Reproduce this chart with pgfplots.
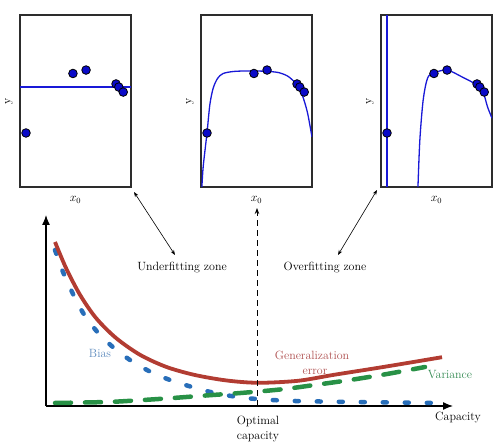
\documentclass[border=0pt]{standalone}
\usepackage{pgfplots}
\usepackage{pgfplotstable}
\pgfplotsset{compat=1.18}
\usetikzlibrary{arrows.meta}

\definecolor{fitblue}{RGB}{25,25,215}
\definecolor{ptblue}{RGB}{10,10,200}
\definecolor{framegray}{RGB}{45,45,45}
\definecolor{generr}{RGB}{178,60,50}
\definecolor{biasblue}{RGB}{40,110,185}
\definecolor{varcol}{RGB}{40,145,70}
\definecolor{biastext}{RGB}{95,140,190}
\definecolor{gentext}{RGB}{175,80,80}
\definecolor{vartext}{RGB}{55,140,85}

\newcommand{\lblfont}{\fontsize{12}{14}\selectfont}

% training samples shared by the three fits
\pgfplotstableread{
x y
0.054 0.314
0.477 0.660
0.595 0.680
0.865 0.599
0.890 0.581
0.930 0.552
}\samples

% bias / variance / generalization error against capacity
\pgfplotstableread{
x y
0.225 4.10
0.5   3.45
0.85  2.78
1.25  2.20
1.75  1.70
2.35  1.28
3.0   0.98
3.7   0.78
4.5   0.64
5.3   0.58
6.3   0.63
7.2   0.78
8.4   0.97
9.9   1.22
}\generr

\pgfplotstableread{
x y
0.225 3.90
0.425 3.35
0.675 2.80
0.925 2.33
1.275 1.86
1.675 1.47
2.1   1.15
2.6   0.86
3.1   0.65
3.65  0.475
4.175 0.335
4.725 0.235
5.275 0.175
6.425 0.12
9.775 0.075
}\bias

\pgfplotstableread{
x y
0.225 0.075
1.525 0.10
2.275 0.14
3.175 0.20
4.025 0.265
4.925 0.33
5.925 0.42
6.675 0.52
7.6   0.65
8.525 0.80
9.475 0.975
}\variance

\pgfplotsset{
  fitpanel/.style={
    scale only axis, width=111bp, height=172bp, anchor=south west,
    xmin=0, xmax=1, ymin=0, ymax=1,
    xtick=\empty, ytick=\empty,
    axis line style={framegray, line width=1.3bp},
    xlabel={$x_0$}, ylabel={y},
    xlabel style={at={(axis description cs:0.5,-0.075)}, anchor=center,
      font=\lblfont},
    ylabel style={at={(axis description cs:-0.1,0.5)}, anchor=center,
      font=\lblfont},
  },
  fitline/.style={fitblue, line width=1.3bp, no marks},
  samplemarks/.style={only marks, mark=*, mark size=4.3bp,
    mark options={fill=ptblue, draw=black, line width=0.8bp}},
}

\begin{document}
\begin{tikzpicture}[font=\lblfont]
\useasboundingbox (0bp,0bp) rectangle (494bp,445bp);

% underfitting: constant model
\begin{axis}[fitpanel, at={(20bp,258bp)}]
  \addplot[fitline] coordinates {(0,0.581) (1,0.581)};
  \addplot[samplemarks] table {\samples};
\end{axis}

% appropriate capacity
\begin{axis}[fitpanel, at={(201bp,258bp)}]
  \addplot[fitline, smooth] coordinates {
    (0.008,0) (0.02,0.12) (0.054,0.314) (0.08,0.48) (0.11,0.575)
    (0.15,0.632) (0.2,0.660) (0.3,0.672) (0.45,0.675) (0.6,0.672)
    (0.7,0.665) (0.78,0.645) (0.84,0.612) (0.88,0.578) (0.92,0.52)
    (0.96,0.43) (1.0,0.29)};
  \addplot[samplemarks] table {\samples};
\end{axis}

% overfitting: high degree polynomial
\begin{axis}[fitpanel, at={(381bp,258bp)}]
  \addplot[fitline] coordinates {(0.054,0) (0.054,1)};
  \addplot[fitline, smooth] coordinates {
    (0.333,0) (0.35,0.273) (0.38,0.506) (0.42,0.634) (0.477,0.663)
    (0.595,0.68) (0.73,0.64) (0.865,0.593) (0.92,0.552) (0.96,0.465)
    (1.0,0.40)};
  \addplot[samplemarks] table {\samples};
\end{axis}

\begin{axis}[
  at={(46bp,39bp)}, anchor=south west, scale only axis,
  width=407bp, height=191bp,
  xmin=0, xmax=10.175, ymin=0, ymax=4.775,
  axis lines=left, xtick=\empty, ytick=\empty,
  axis line style={black, line width=1.3bp, -{Latex[length=10bp,width=8bp]}},
  clip=false,
]
  \addplot[biasblue, line width=4.5bp, line cap=round,
    dash pattern={on 4bp off 18bp}, smooth] table {\bias};
  \addplot[varcol, line width=4.5bp, line cap=round,
    dash pattern={on 16bp off 14bp}, smooth] table {\variance};
  \addplot[generr, line width=3.8bp, smooth] table {\generr};
  \addplot[black, line width=1bp, dash pattern={on 6bp off 4bp},
    -{Stealth[length=6bp]}] coordinates {(5.275,0) (5.275,4.95)};

  \node[biastext, font=\lblfont] at (axis cs:1.35,1.325) {Bias};
  \node[gentext, font=\lblfont] at (axis cs:6.65,1.275) {Generalization};
  \node[gentext, font=\lblfont] at (axis cs:6.725,0.85) {error};
  \node[vartext, font=\lblfont] at (axis cs:10.1,0.775) {Variance};
  \node[font=\lblfont] at (axis cs:5.3,-0.375) {Optimal};
  \node[font=\lblfont] at (axis cs:5.3,-0.775) {capacity};
  \node[font=\lblfont] at (axis cs:10.3,-0.3) {Capacity};
  \node[font=\lblfont] at (axis cs:3.4,3.45) {Underfitting zone};
  \node[font=\lblfont] at (axis cs:6.975,3.45) {Overfitting zone};
\end{axis}

% pointers from the zone labels to the panels
\draw[{Stealth[length=5bp]}-{Stealth[length=5bp]}, line width=0.6bp]
  (134bp,253bp) -- (175bp,190bp);
\draw[{Stealth[length=5bp]}-{Stealth[length=5bp]}, line width=0.6bp]
  (377bp,255bp) -- (338bp,190bp);
\end{tikzpicture}
\end{document}
